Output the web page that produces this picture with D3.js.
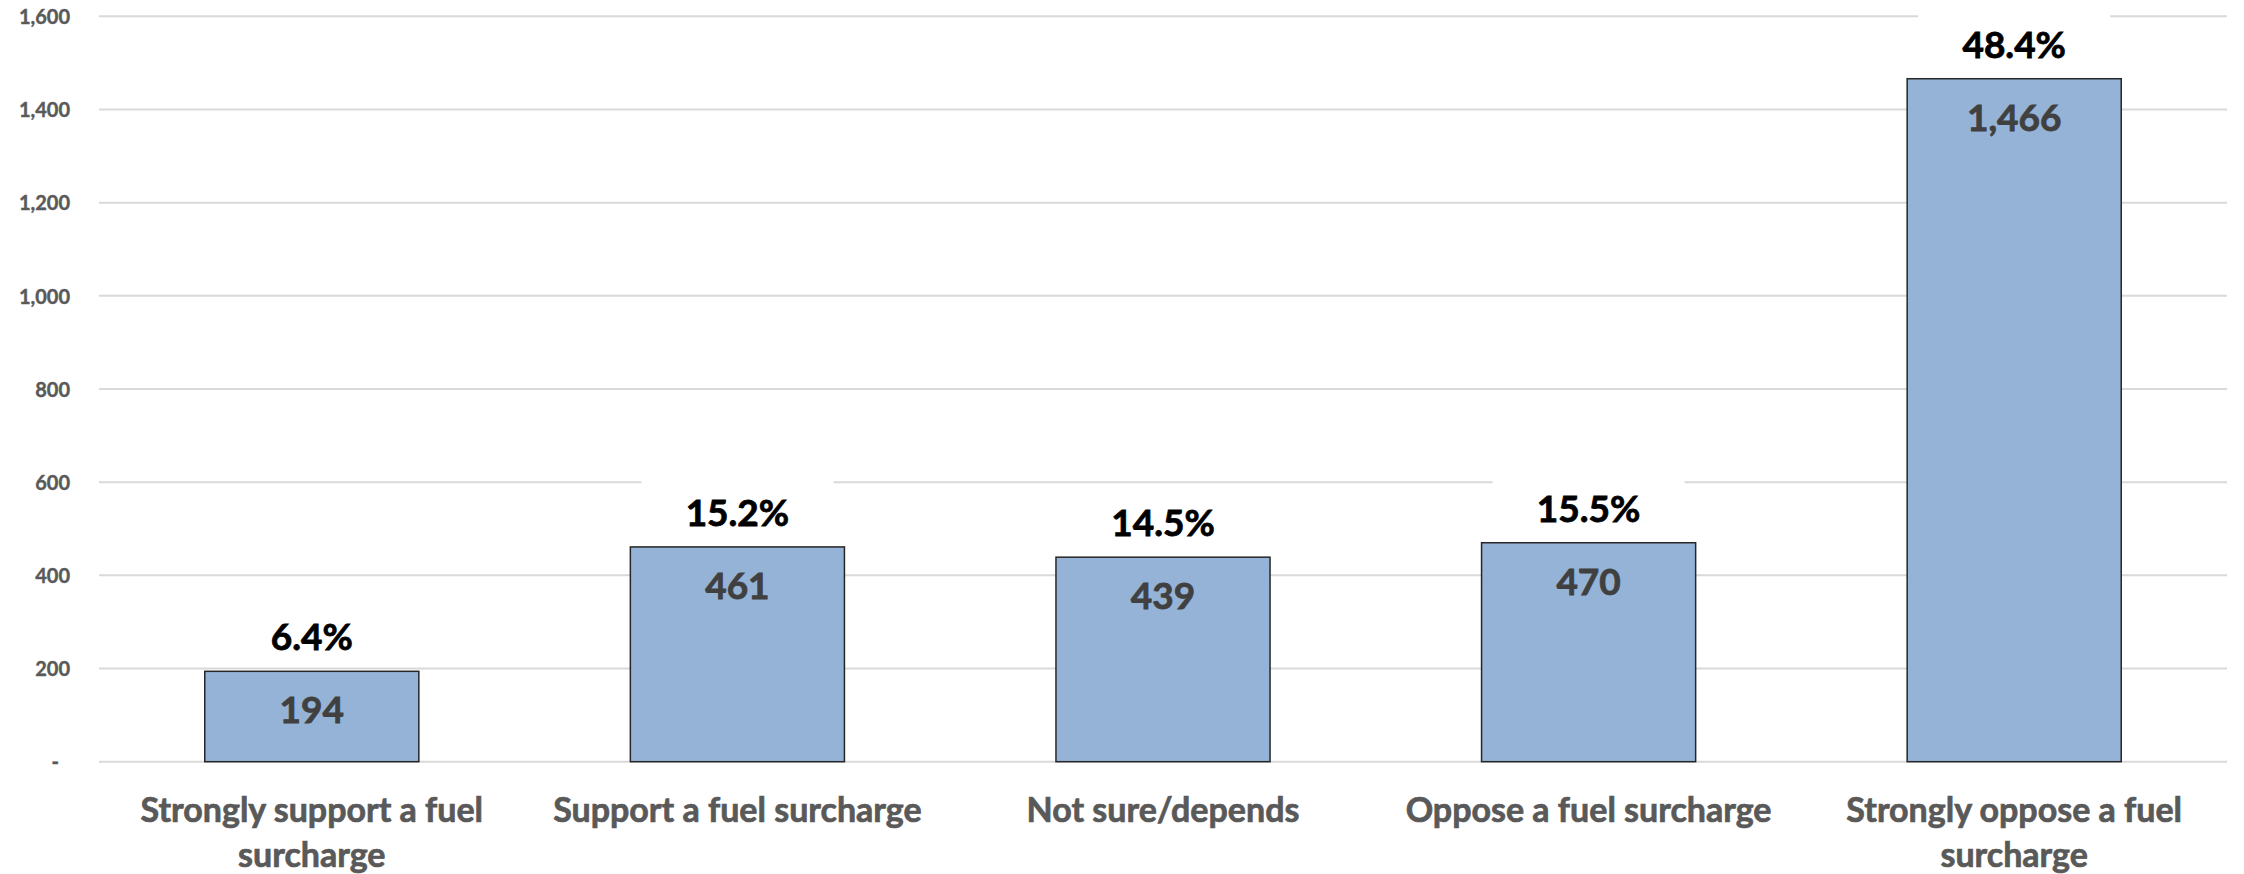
<!DOCTYPE html>
<html>
<head>
<meta charset="utf-8">
<script src="https://cdn.jsdelivr.net/npm/d3@7"></script>
<style>
  html, body { margin: 0; padding: 0; background: #ffffff; }
  svg { display: block; }
  text { font-family: Lato, "Open Sans", sans-serif; font-weight: 700; }
</style>
</head>
<body>
<svg id="chart" width="2244" height="874"></svg>
<script>
// Survey responses on a fuel surcharge
const categories = [
  "Strongly support a fuel surcharge",
  "Support a fuel surcharge",
  "Not sure/depends",
  "Oppose a fuel surcharge",
  "Strongly oppose a fuel surcharge"
];
const counts = [194, 461, 439, 470, 1466];
const shares = [6.4, 15.2, 14.5, 15.5, 48.4];
const yTicks = [0, 200, 400, 600, 800, 1000, 1200, 1400, 1600];

const plot = { left: 99, right: 2227, top: 16.3, bottom: 761.7 };

const svg = d3.select("#chart");

const x = d3.scaleBand()
  .domain(categories)
  .range([plot.left, plot.right])
  .paddingInner(0.497)
  .paddingOuter(0.2485);

const y = d3.scaleLinear()
  .domain([0, 1600])
  .range([plot.bottom, plot.top]);

const fmt = d3.format(",");

// horizontal gridlines
svg.append("g")
  .selectAll("line")
  .data(yTicks)
  .join("line")
  .attr("x1", plot.left)
  .attr("x2", plot.right)
  .attr("y1", d => y(d))
  .attr("y2", d => y(d))
  .attr("stroke", "#d9d9d9")
  .attr("stroke-width", 2);

// value axis labels
const yAxis = d3.axisLeft(y)
  .tickValues(yTicks)
  .tickSize(0)
  .tickPadding(0)
  .tickFormat(d => d === 0 ? "-" : fmt(d));

const yg = svg.append("g")
  .attr("transform", `translate(${plot.left - 29},0)`)
  .call(yAxis);
yg.select(".domain").remove();
yg.selectAll("text")
  .attr("fill", "#595959")
  .attr("stroke", "#595959")
  .attr("stroke-width", 0.4)
  .style("font-size", "20px")
  .attr("dy", "0.36em")
  .attr("dx", d => d === 0 ? -11 : 0);

// bars
svg.append("g")
  .selectAll("rect")
  .data(categories)
  .join("rect")
  .attr("x", d => x(d))
  .attr("width", x.bandwidth())
  .attr("y", (d, i) => y(counts[i]))
  .attr("height", (d, i) => y(0) - y(counts[i]))
  .attr("fill", "#95b3d7")
  .attr("stroke", "#262626")
  .attr("stroke-width", 1.5);

// count labels inside the bar tops
svg.append("g")
  .selectAll("text")
  .data(categories)
  .join("text")
  .attr("x", d => x(d) + x.bandwidth() / 2)
  .attr("y", (d, i) => y(counts[i]) + 52)
  .attr("text-anchor", "middle")
  .attr("fill", "#404040")
  .attr("stroke", "#404040")
  .attr("stroke-width", 0.8)
  .style("font-size", "37px")
  .text((d, i) => fmt(counts[i]));

// percentage callouts above the bars, on white boxes
const pct = svg.append("g")
  .selectAll("g")
  .data(categories)
  .join("g")
  .attr("transform", (d, i) => `translate(${x(d) + x.bandwidth() / 2},${y(counts[i])})`);

pct.append("rect")
  .attr("x", -96)
  .attr("y", -70)
  .attr("width", 192)
  .attr("height", 62)
  .attr("fill", "#ffffff");

pct.append("text")
  .attr("text-anchor", "middle")
  .attr("y", -21)
  .attr("fill", "#000000")
  .attr("stroke", "#000000")
  .attr("stroke-width", 0.8)
  .style("font-size", "37px")
  .text((d, i) => shares[i].toFixed(1) + "%");

// category labels, wrapped to the band step
const cat = svg.append("g")
  .selectAll("text")
  .data(categories)
  .join("text")
  .attr("x", d => x(d) + x.bandwidth() / 2)
  .attr("y", 822)
  .attr("text-anchor", "middle")
  .attr("fill", "#595959")
  .attr("stroke", "#595959")
  .attr("stroke-width", 0.7)
  .style("font-size", "34px");

cat.each(function(d) {
  const t = d3.select(this);
  const words = d.split(" ");
  const lines = [];
  let line = [];
  const probe = t.append("tspan");
  for (const w of words) {
    const trial = line.concat(w).join(" ");
    probe.text(trial);
    if (probe.node().getComputedTextLength() > x.step() - 20 && line.length) {
      lines.push(line.join(" "));
      line = [w];
    } else {
      line.push(w);
    }
  }
  lines.push(line.join(" "));
  probe.remove();
  lines.forEach((l, k) => {
    t.append("tspan")
      .attr("x", x(d) + x.bandwidth() / 2)
      .attr("dy", k === 0 ? 0 : 45)
      .text(l);
  });
});
</script>
</body>
</html>
